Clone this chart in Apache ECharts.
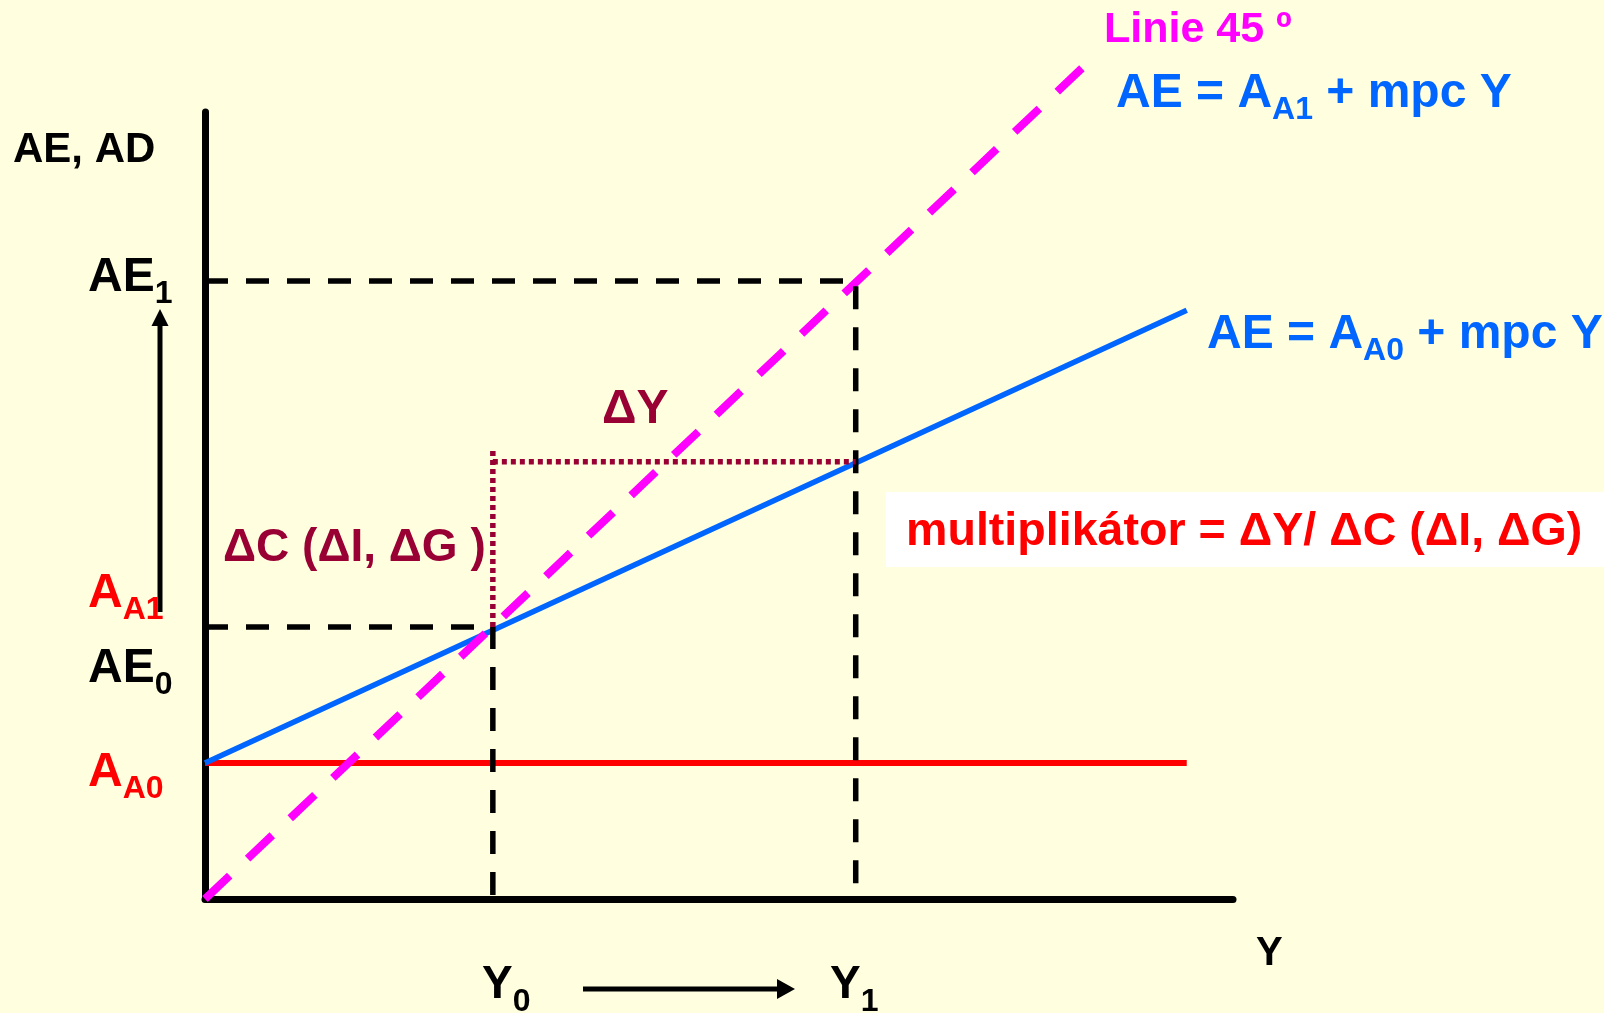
<!DOCTYPE html>
<html>
<head>
<meta charset="utf-8">
<script src="https://cdn.jsdelivr.net/npm/echarts@6/dist/echarts.min.js"></script>
<style>
  html, body { margin: 0; padding: 0; background: #ffffe0; }
  #main { width: 1604px; height: 1013px; }
</style>
</head>
<body>
<div id="main"></div>
<script>
// values (axis units: x 0..100, y 0..81)
var incomeY = [28.0, 63.3];            // Y0, Y1
var spendAE = [28.0, 63.6];            // AE0, AE1
var autoA0 = 14.0;                     // A_A0
var line45 = [[0, 0], [85.3, 85.5]];
var aeLine0 = [[0, autoA0], [95.5, 60.6]];
var aa0Line = [[0, autoA0], [95.5, autoA0]];
var deltaYLevel = 45.0;
var deltaCTop = 46.5;

var FONT = "'Liberation Sans', Arial, sans-serif";
var MAROON = '#990033';
var BLUE = '#0066ff';

function label(x, baseline, parts, size, color, subSize) {
    var str = parts.map(function (p) {
        return '{' + (p[1] ? 's' : 'm') + '|' + p[0] + '}';
    }).join('');
    var ss = subSize || 32;
    return {
        type: 'text',
        x: x,
        y: baseline - 32.5 - 0.31 * size,
        silent: true,
        z: 10,
        style: {
            text: str,
            fill: color,
            align: 'left',
            verticalAlign: 'top',
            rich: {
                m: { fontSize: size, fontWeight: 'bold', fontFamily: FONT, lineHeight: 65, verticalAlign: 'middle', fill: color },
                s: { fontSize: ss, fontWeight: 'bold', fontFamily: FONT, lineHeight: ss, verticalAlign: 'bottom', fill: color }
            }
        }
    };
}

function lineSeries(data, color, width, dash, z) {
    return {
        type: 'line',
        data: data,
        symbol: 'none',
        silent: true,
        clip: false,
        z: z,
        lineStyle: { color: color, width: width, type: dash || 'solid' }
    };
}

var myChart = echarts.init(document.getElementById('main'));
var option = {
    backgroundColor: '#ffffe0',
    animation: false,
    grid: { left: 205, top: 112, width: 1028, height: 787 },
    xAxis: {
        type: 'value', min: 0, max: 100,
        axisLine: { show: true, lineStyle: { color: '#000', width: 7 } },
        axisTick: { show: false }, axisLabel: { show: false }, splitLine: { show: false }
    },
    yAxis: {
        type: 'value', min: 0, max: 81,
        axisLine: { show: true, lineStyle: { color: '#000', width: 7 } },
        axisTick: { show: false }, axisLabel: { show: false }, splitLine: { show: false }
    },
    series: [
        lineSeries(aa0Line, '#ff0000', 6, null, 2),
        lineSeries(aeLine0, BLUE, 5.5, null, 3),
        lineSeries(line45, '#ff00ff', 8, [34, 24.7], 4),
        lineSeries([[0, spendAE[1]], [incomeY[1], spendAE[1]], [incomeY[1], 0]], '#000', 5.5, [23, 18], 5),
        lineSeries([[0, spendAE[0]], [incomeY[0], spendAE[0]], [incomeY[0], 0]], '#000', 5.5, [23, 18], 5),
        lineSeries([[incomeY[0], spendAE[0]], [incomeY[0], deltaCTop]], MAROON, 5.5, [5, 4], 6),
        lineSeries([[incomeY[0], deltaYLevel], [incomeY[1], deltaYLevel]], MAROON, 5.5, [5, 4], 6)
    ],
    graphic: [
        { type: 'rect', shape: { x: 886, y: 492, width: 718, height: 75 }, style: { fill: '#ffffff' }, silent: true, z: 5 },
        label(1104, 43, [['Linie 45 º']], 43, '#ff00ff'),
        label(1116, 109, [['AE = A'], ['A1', 1], [' + mpc Y']], 48, BLUE),
        label(1207, 350, [['AE = A'], ['A0', 1], [' + mpc Y']], 48, BLUE),
        label(13, 163, [['AE, AD']], 42, '#000'),
        label(88, 293, [['AE'], ['1', 1]], 48, '#000'),
        label(88, 609, [['A'], ['A1', 1]], 48, '#ff0000'),
        label(88, 684, [['AE'], ['0', 1]], 48, '#000'),
        label(88, 788, [['A'], ['A0', 1]], 48, '#ff0000'),
        label(602, 425, [['ΔY']], 48, MAROON),
        label(223, 563, [['ΔC (ΔI, ΔG )']], 46, MAROON),
        label(906, 547, [['multiplikátor = ΔY/ ΔC (ΔI, ΔG)']], 46.6, '#ff0000'),
        label(1256, 966, [['Y']], 40, '#000'),
        label(482, 1000, [['Y'], ['0', 1]], 46, '#000'),
        label(830, 1000, [['Y'], ['1', 1]], 46, '#000'),
        // arrows
        { type: 'line', shape: { x1: 583, y1: 989, x2: 779, y2: 989 }, style: { stroke: '#000', lineWidth: 5 }, silent: true },
        { type: 'polygon', shape: { points: [[777, 979], [795, 989], [777, 999]] }, style: { fill: '#000' }, silent: true },
        { type: 'line', shape: { x1: 160, y1: 612, x2: 160, y2: 324 }, style: { stroke: '#000', lineWidth: 5 }, silent: true },
        { type: 'polygon', shape: { points: [[151.5, 326], [160, 309], [168.5, 326]] }, style: { fill: '#000' }, silent: true }
    ]
};
myChart.setOption(option);
</script>
</body>
</html>
